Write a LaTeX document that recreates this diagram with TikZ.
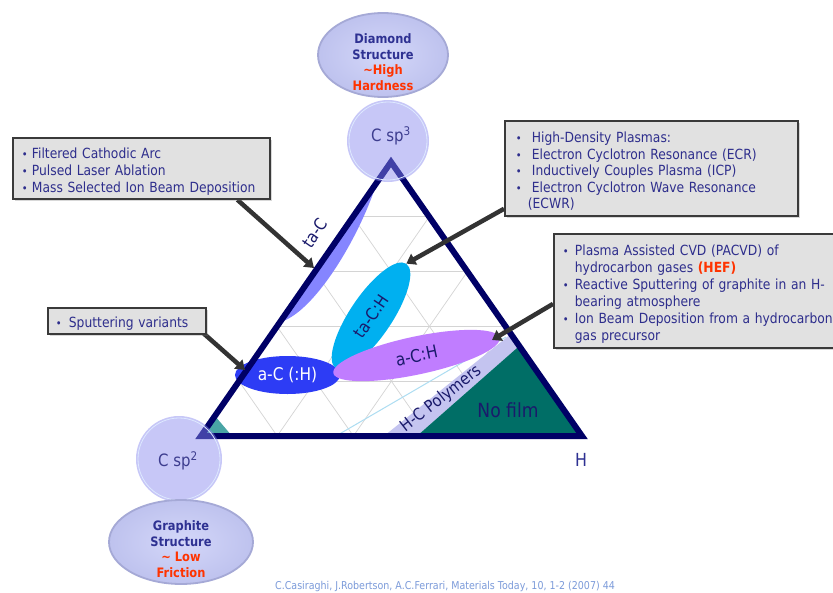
\documentclass[tikz,border=0pt]{standalone}
\usepackage{fontspec}
\usepackage{graphicx}
\setmainfont{DejaVu Sans}[FakeStretch=0.88]
\usetikzlibrary{arrows.meta,shadows,shapes.geometric,calc}
\definecolor{trinavy}{HTML}{000066}
\definecolor{gridgrey}{HTML}{D4D4D4}
\definecolor{tacc}{HTML}{8585FF}
\definecolor{tachc}{HTML}{00B0F0}
\definecolor{acblue}{HTML}{2D3CF5}
\definecolor{achc}{HTML}{C07DFF}
\definecolor{hcpoly}{HTML}{C4C4F0}
\definecolor{nofilmc}{HTML}{006E66}
\definecolor{tealc}{HTML}{49A5A5}
\definecolor{paleblue}{HTML}{ADDDF2}
\definecolor{circfill}{HTML}{8989F0}
\definecolor{ringc}{HTML}{DDE8FF}
\definecolor{ellin}{HTML}{D4D7F9}
\definecolor{ellout}{HTML}{BEC2EE}
\definecolor{elldraw}{HTML}{A5A9D6}
\definecolor{elltxt}{HTML}{2E3192}
\definecolor{hardred}{HTML}{FF3300}
\definecolor{boxfill}{HTML}{E1E1E1}
\definecolor{boxdraw}{HTML}{3A3A3A}
\definecolor{boxtext}{HTML}{2E2E8C}
\definecolor{arrowgrey}{HTML}{333333}
\definecolor{lblnavy}{HTML}{1A1A6B}
\definecolor{cornertxt}{HTML}{3D3D8F}
\definecolor{citec}{HTML}{7C9BDA}
\newlength\bulw
\newcommand\bitem[1]{\par\noindent\hangindent=\bulw\hangafter=1\makebox[\bulw][l]{\scalebox{0.8}{•}}#1}
\pgfdeclarelayer{fg}
\pgfsetlayers{main,fg}
\begin{document}
\begin{tikzpicture}[x=1pt,y=-1pt,
  gridline/.style={draw=gridgrey, line width=0.7pt},
  tri/.style={draw=trinavy, line width=6pt, line join=miter},
  boxstyle/.style={draw=boxdraw, line width=1.8pt, fill=boxfill, anchor=north west,
    inner ysep=0pt, align=left, text=boxtext,
    drop shadow={shadow xshift=2pt, shadow yshift=-2pt, opacity=0.3}},
  pointer/.style={draw=arrowgrey, line width=4.5pt, -{Triangle[length=9pt,width=12pt]}},
  region/.style={ellipse, inner sep=0pt},
  cornercircle/.style={circle, fill=circfill, fill opacity=0.47, inner sep=0pt},
  cornerlbl/.style={text=cornertxt, font=\fontsize{17}{17}\selectfont},
  bigellipse/.style={ellipse, inner color=ellin, outer color=ellout, draw=elldraw, line width=1.8pt},
  elltext/.style={align=center, text=elltxt, font=\bfseries\fontsize{13}{15.5}\selectfont},
  lbl/.style={text=lblnavy},
]
\useasboundingbox (0,0) rectangle (833,592);
\fill[white] (0,0) rectangle (833,592);

\coordinate (A) at (201,436);
\coordinate (B) at (582,436);
\coordinate (C) at (391,162);

% grid
\foreach \t in {0.2,0.4,0.6,0.8}{
  \draw[gridline] ($(A)!\t!(C)$) -- ($(B)!\t!(C)$);
  \draw[gridline] ($(A)!\t!(B)$) -- ($(C)!\t!(B)$);
  \draw[gridline] ($(B)!\t!(A)$) -- ($(C)!\t!(A)$);
}

% regions
\fill[tealc] (A) -- (232,436) -- (215,416) -- cycle;
\draw[paleblue, line width=1pt] (336,436) -- (506,337);
\fill[hcpoly] (384,436) -- (510.9,334) -- (519.3,346) -- (417,436) -- cycle;
\fill[nofilmc] (417,436) -- (B) -- (519.3,346) -- cycle;
\fill[tacc] (377.1,182) .. controls (357.9,241.3) and (312.7,313.5) .. (280,322) -- cycle;

\node[region, fill=acblue, minimum width=105pt, minimum height=38pt, text=white,
  font=\fontsize{17.5}{17.5}\selectfont] (ac) at (287.5,375) {a-C (:H)};
\node[region, fill=tachc, minimum width=126pt, minimum height=42pt, rotate=56, lbl,
  font=\fontsize{17}{17}\selectfont] (tach) at (371,316) {ta-C:H};
\node[region, fill=achc, minimum width=170pt, minimum height=38pt, rotate=12, lbl,
  font=\fontsize{17.5}{17.5}\selectfont] (ach) at (416.5,355.5) {a-C:H};

\node[lbl, rotate=38, font=\fontsize{16.5}{16.5}\selectfont] (hcp) at (441,399) {H-C Polymers};
\node[lbl, font=\fontsize{19.5}{19.5}\selectfont] (nof) at (508,410) {No film};

% triangle
\draw[tri] (A) -- (B) -- (C) -- cycle;

% corner circles
\node[cornercircle, minimum size=82pt] (topc) at (388,141) {};
\draw[ringc, line width=0.8pt] (topc.center) circle[radius=39pt];
\node[cornerlbl] (toplbl) at (391,136) {C sp\textsuperscript{3}};
\node[cornercircle, minimum size=86pt] (botc) at (179,459) {};
\draw[ringc, line width=0.8pt] (botc.center) circle[radius=41pt];
\node[cornerlbl] (botlbl) at (178,461) {C sp\textsuperscript{2}};

% big ellipses
\node[bigellipse, minimum width=130pt, minimum height=84pt] (dia) at (383,55) {};
\node[elltext] (diatxt) at (383,62) {Diamond\\Structure\\\textcolor{hardred}{\textasciitilde High}\\\textcolor{hardred}{Hardness}};
\node[bigellipse, minimum width=144pt, minimum height=84pt] (gra) at (181,542) {};
\node[elltext] (gratxt) at (181,549) {Graphite\\Structure\\\textcolor{hardred}{\textasciitilde{} Low}\\\textcolor{hardred}{Friction}};

% labels
\node[lbl, rotate=55.3, font=\fontsize{17}{17}\selectfont] (taclbl) at (315,233) {ta-C};
\node[text=elltxt, font=\fontsize{18}{18}\selectfont] (hlbl) at (581,460) {H};

% boxes
\begin{pgfonlayer}{fg}
\node[boxstyle, minimum width=257pt, minimum height=61pt, inner xsep=9pt, text width=239pt,
  font=\fontsize{14}{17}\selectfont] (b1) at (12,137)
  {\setlength\bulw{10pt}\bitem{Filtered Cathodic Arc}\bitem{Pulsed Laser Ablation}\bitem{Mass Selected Ion Beam Deposition}\par};
\node[boxstyle, minimum width=293pt, minimum height=95pt, inner xsep=11pt, text width=271pt,
  font=\fontsize{14}{16.5}\selectfont] (b2) at (504,120)
  {\setlength\bulw{16pt}\bitem{High-Density Plasmas:}\bitem{Electron Cyclotron Resonance (ECR)}\bitem{Inductively Couples Plasma (ICP)}\bitem{Electron Cyclotron Wave Resonance\newline\hspace*{-4pt}(ECWR)}\par};
\node[boxstyle, minimum width=300pt, minimum height=114pt, inner xsep=9pt, text width=282pt,
  font=\fontsize{14}{17}\selectfont] (b3) at (553,233)
  {\setlength\bulw{12pt}\bitem{Plasma Assisted CVD (PACVD) of\newline hydrocarbon gases \textbf{\textcolor{hardred}{(HEF)}}}\bitem{Reactive Sputtering of graphite in an H-\newline bearing atmosphere}\bitem{Ion Beam Deposition from a hydrocarbon\newline gas precursor}\par};
\node[boxstyle, minimum width=158pt, minimum height=26pt, inner xsep=8pt, text width=142pt,
  font=\fontsize{14}{17}\selectfont] (b4) at (47,307)
  {\setlength\bulw{13pt}\bitem{Sputtering variants}\par};
\end{pgfonlayer}

% arrows
\coordinate (tacTip) at (314,268);
\coordinate (achTip) at (492,340);
\coordinate (acTip) at (245,370);
\draw[pointer] ([xshift=96pt]b1.south) -- (tacTip);
\draw[pointer] ([yshift=8pt]b2.south west) -- (tach.east);
\draw[pointer] ([yshift=-13pt]b3.west) -- (achTip);
\draw[pointer] ([xshift=-5pt,yshift=3pt]b4.south east) -- (acTip);

% citation
\node[text=citec, font=\fontsize{10.8}{11}\selectfont] (cite) at (445,587)
  {C.Casiraghi, J.Robertson, A.C.Ferrari, Materials Today, 10, 1-2 (2007) 44};
\end{tikzpicture}
\end{document}
